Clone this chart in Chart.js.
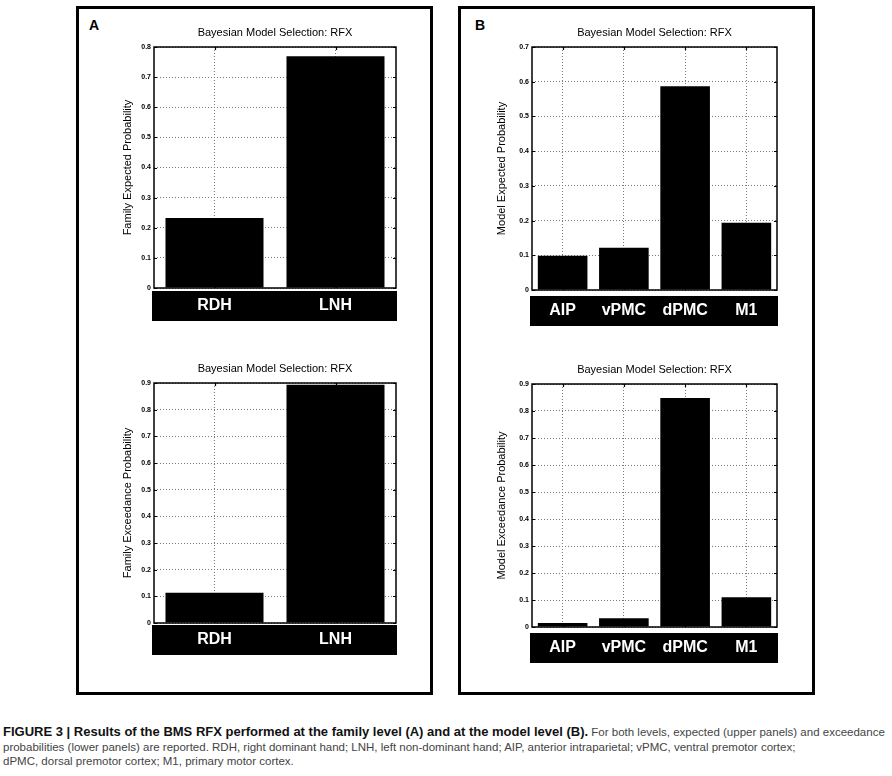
<!DOCTYPE html>
<html lang="en">
<head>
<meta charset="UTF-8">
<title>Bayesian Model Selection: RFX</title>
<style>
  body { margin: 0; background: #fff; width: 892px; height: 776px; position: relative; overflow: hidden;
         font-family: "Liberation Sans", Arial, sans-serif; }
  .panel { position: absolute; border: 3px solid #000; box-sizing: border-box; }
  .letter { position: absolute; font: bold 14px/14px "Liberation Sans", Arial, sans-serif; color: #000; }
  canvas { position: absolute; }
  .caption { position: absolute; left: 3px; top: 725px; font-size: 11.5px; line-height: 14.6px; color: #444; white-space: nowrap; }
  .caption b { color: #111; font-size: 13px; }
</style>
</head>
<body>

<div class="panel" style="left:76px;top:6px;width:357px;height:689px"></div>
<div class="panel" style="left:458px;top:6px;width:357px;height:689px"></div>
<div class="letter" style="left:89px;top:18px">A</div>
<div class="letter" style="left:475px;top:18px">B</div>

<canvas id="famExp"></canvas>
<canvas id="famExc"></canvas>
<canvas id="modExp"></canvas>
<canvas id="modExc"></canvas>

<div class="caption">
<b>FIGURE 3 | Results of the BMS RFX performed at the family level (A) and at the model level (B).</b> For both levels, expected (upper panels) and exceedance<br>
probabilities (lower panels) are reported. RDH, right dominant hand; LNH, left non-dominant hand; AIP, anterior intraparietal; vPMC, ventral premotor cortex;<br>
dPMC, dorsal premotor cortex; M1, primary motor cortex.
</div>

<script src="https://cdnjs.cloudflare.com/ajax/libs/Chart.js/4.4.0/chart.umd.min.js"></script>
<script>
    // values
    var familyLabels = ['RDH', 'LNH'];
    var familyExpected = [0.232, 0.769];
    var familyExceedance = [0.113, 0.893];

    var modelLabels = ['AIP', 'vPMC', 'dPMC', 'M1'];
    var modelExpected = [0.099, 0.122, 0.587, 0.194];
    var modelExceedance = [0.015, 0.032, 0.848, 0.110];

    var chartTitle = 'Bayesian Model Selection: RFX';

    Chart.defaults.font.family = '"Liberation Sans", Arial, sans-serif';
    Chart.defaults.color = '#000';

    // black label strip under the axis, the axis box and inward tick marks (matlab look)
    var matlabAxes = {
        id: 'matlabAxes',
        beforeDraw: function (chart, args, opts) {
            var a = chart.chartArea, ctx = chart.ctx;
            ctx.save();
            ctx.fillStyle = '#000';
            ctx.fillRect(a.left - 2, a.bottom + opts.stripTop, a.right - a.left + 3, 30);
            ctx.restore();
        },
        afterDatasetsDraw: function (chart) {
            var a = chart.chartArea, ctx = chart.ctx;
            var x = chart.scales.x, y = chart.scales.y;
            ctx.save();
            ctx.strokeStyle = '#000';
            ctx.lineWidth = 1.2;
            ctx.beginPath();
            y.ticks.forEach(function (t) {
                var py = Math.round(y.getPixelForValue(t.value)) + 0.5;
                ctx.moveTo(a.left, py); ctx.lineTo(a.left + 3, py);
                ctx.moveTo(a.right, py); ctx.lineTo(a.right - 3, py);
            });
            x.ticks.forEach(function (t, i) {
                var px = Math.round(x.getPixelForTick(i)) + 0.5;
                ctx.moveTo(px, a.bottom); ctx.lineTo(px, a.bottom - 3);
                ctx.moveTo(px, a.top); ctx.lineTo(px, a.top + 3);
            });
            ctx.stroke();
            ctx.lineWidth = 1.5;
            ctx.strokeRect(a.left, a.top, a.right - a.left, a.bottom - a.top);
            ctx.restore();
        }
    };

    function makeChart(id, plot, labels, values, yMax, yTitle, yTitlePad, stripTop) {
        var cv = document.getElementById(id);
        var yw = 44, top = 26, xh = 42, rp = 12;
        cv.style.left = (plot.l - yw) + 'px';
        cv.style.top = (plot.t - top) + 'px';
        cv.width = plot.r - plot.l + yw + rp;
        cv.height = plot.b - plot.t + top + xh;

        return new Chart(cv, {
            type: 'bar',
            data: {
                labels: labels,
                datasets: [{
                    data: values,
                    backgroundColor: '#000',
                    borderWidth: 0,
                    barPercentage: 0.81,
                    categoryPercentage: 1
                }]
            },
            options: {
                responsive: false,
                animation: false,
                devicePixelRatio: 1,
                layout: { padding: { left: 0, right: rp, top: 0, bottom: 0 } },
                plugins: {
                    legend: { display: false },
                    tooltip: { enabled: false },
                    title: {
                        display: true,
                        text: chartTitle,
                        fullSize: false,
                        color: '#000',
                        font: { size: 11, weight: 'normal', lineHeight: 1.2 },
                        padding: { top: 5.4, bottom: 7.4 }
                    },
                    matlabAxes: { stripTop: stripTop }
                },
                scales: {
                    x: {
                        afterFit: function (s) { s.height = xh; },
                        grid: { offset: false, drawTicks: false, color: '#7a7a7a', lineWidth: 1 },
                        border: { display: false, dash: [1, 2] },
                        ticks: {
                            color: '#fff',
                            font: { size: 16, weight: 'bold' },
                            padding: stripTop + 5.4,
                            maxRotation: 0
                        }
                    },
                    y: {
                        min: 0,
                        max: yMax,
                        afterFit: function (s) { s.width = yw; },
                        grid: { drawTicks: false, color: '#7a7a7a', lineWidth: 1 },
                        border: { display: false, dash: [1, 2] },
                        ticks: {
                            stepSize: 0.1,
                            padding: 3,
                            color: '#000',
                            font: { size: 7, weight: 'bold' },
                            callback: function (v) { return v === 0 ? '0' : v.toFixed(1); }
                        },
                        title: {
                            display: true,
                            text: yTitle,
                            color: '#000',
                            font: { size: 11, weight: 'normal', lineHeight: 1.2 },
                            padding: { top: yTitlePad + 0.3, bottom: 0 }
                        }
                    }
                }
            },
            plugins: [matlabAxes]
        });
    }

    makeChart('famExp', { l: 154, r: 396, t: 47, b: 288 }, familyLabels, familyExpected, 0.8,
        'Family Expected Probability', 11.1, 3);
    makeChart('famExc', { l: 154, r: 396, t: 383, b: 623 }, familyLabels, familyExceedance, 0.9,
        'Family Exceedance Probability', 11.1, 2);
    makeChart('modExp', { l: 532, r: 777, t: 47, b: 290 }, modelLabels, modelExpected, 0.7,
        'Model Expected Probability', 7.1, 6);
    makeChart('modExc', { l: 532, r: 777, t: 384, b: 627 }, modelLabels, modelExceedance, 0.9,
        'Model Exceedance Probability', 7.1, 6);
</script>
</body>
</html>
